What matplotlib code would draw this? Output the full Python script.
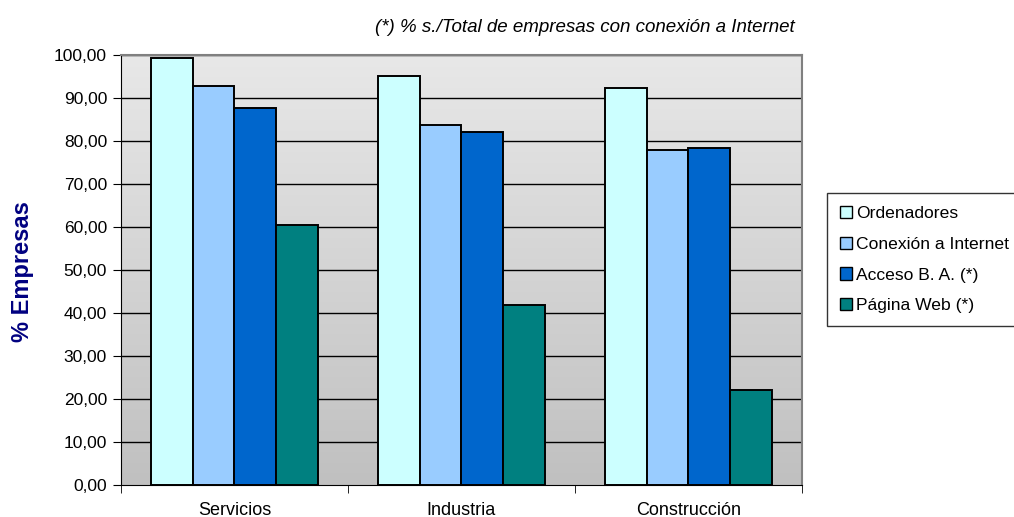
import numpy as np
from matplotlib import pyplot as plt
from matplotlib.colors import LinearSegmentedColormap

plt.rcParams['font.family'] = ['Liberation Sans', 'DejaVu Sans']

# datos
categorias = ['Servicios', 'Industria', 'Construcción']
series = ['Ordenadores', 'Conexión a Internet', 'Acceso B. A. (*)', 'Página Web (*)']
ordenadores = [99.3, 95.1, 92.4]
conexion = [92.8, 83.7, 77.9]
acceso = [87.7, 82.0, 78.3]
pagina_web = [60.5, 41.9, 22.1]
colores = ['#CCFFFF', '#99CCFF', '#0066CC', '#008080']
yticks = np.arange(0, 101, 10)

fig = plt.figure(figsize=(10.14, 5.17), dpi=100)
ax = fig.add_axes([0.1193, 0.0619, 0.6716, 0.8317])

# fondo degradado
grad = np.linspace(0, 1, 256).reshape(-1, 1)
cmap = LinearSegmentedColormap.from_list('g', ['#e8e8e8', '#c0c0c0'])
ax.imshow(grad, cmap=cmap, extent=[-0.5, 2.5, 0, 100], aspect='auto', zorder=0, origin='upper')

x = np.arange(len(categorias))
w = 0.183
valores = [ordenadores, conexion, acceso, pagina_web]
for i, (vals, nombre) in enumerate(zip(valores, series)):
    ax.bar(x + (i - 1.5) * w, vals, w, color=colores[i], edgecolor='black',
           linewidth=1.4, label=nombre, zorder=3)

for y in yticks[1:]:
    ax.axhline(y, color='black', lw=1, zorder=1)

ax.set_xlim(-0.5, 2.5)
ax.set_ylim(0, 100)
ax.set_yticks(yticks)
ax.set_yticklabels([f'{v:.2f}'.replace('.', ',') for v in yticks], fontsize=12.5)
ax.set_xticks(x)
ax.set_xticklabels(categorias, fontsize=13)
ax.tick_params(axis='x', length=0, pad=12)
ax.set_xticks([-0.5, 0.5, 1.5, 2.5], minor=True)
ax.tick_params(axis='x', which='minor', length=6, color='black')
ax.tick_params(axis='y', length=6, color='black', pad=4)

for s in ['top', 'right']:
    ax.spines[s].set_color('#808080')
    ax.spines[s].set_linewidth(1.5)
for s in ['left', 'bottom']:
    ax.spines[s].set_color('black')

fig.text(22 / 1014, 1 - 272 / 517, '% Empresas', rotation=90, ha='center', va='center',
         fontsize=17, fontweight='bold', color='#000080')

fig.text(795 / 1014, 1 - 28 / 517, '(*) % s./Total de empresas con conexión a Internet',
         ha='right', va='center', fontsize=13.5, style='italic')

leg = fig.legend(loc='upper left', bbox_to_anchor=(827 / 1014, 1 - 193 / 517), frameon=True,
                 fancybox=False, edgecolor='black', fontsize=12.6, handlelength=0.7,
                 handleheight=0.7, handletextpad=0.2, labelspacing=0.88, borderaxespad=0,
                 borderpad=0.75)
leg.get_frame().set_linewidth(1)
for h in leg.legend_handles:
    h.set_linewidth(1)

fig.savefig('out.png', dpi=100)
